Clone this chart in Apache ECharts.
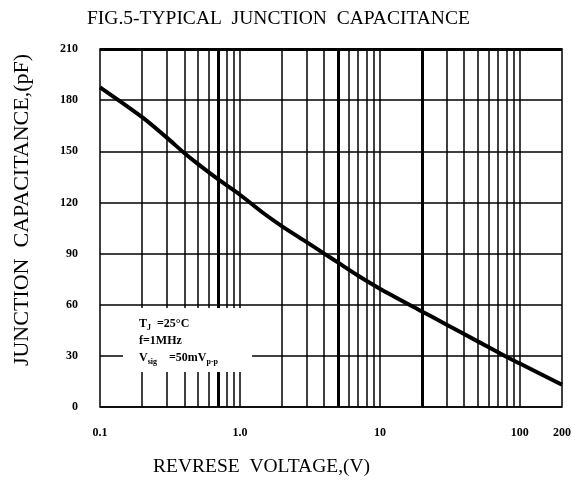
<!DOCTYPE html>
<html>
<head>
<meta charset="utf-8">
<script src="https://cdn.jsdelivr.net/npm/echarts@6/dist/echarts.min.js"></script>
<style>
  html, body { margin: 0; padding: 0; background: #fff; }
  #chart { width: 575px; height: 495px; }
</style>
</head>
<body>
<div id="chart"></div>
<script>
// curve
var voltage = [0.1, 0.2, 0.3, 0.4, 0.5, 0.7, 1, 1.5, 2, 3, 4, 5, 7, 10, 20, 30, 50, 80, 100, 200];
var capacitance = [187.5, 170, 158, 149, 142.6, 133.5, 124.5, 113.2, 106, 96.7, 90, 84.8, 77, 69.4, 56, 48.3, 38.5, 29.5, 25.5, 13];

// log grid lines (thick ones are drawn heavier in the original)
var gridVolts = [0.2, 0.3, 0.4, 0.5, 0.6, 0.7, 0.8, 0.9, 1, 2, 3, 4, 5, 6, 7, 8, 9, 10, 20, 30, 40, 50, 60, 70, 80, 90, 100];
var thickVolts = [0.7, 5, 20];

var xTickValues = [0.1, 1, 10, 100, 200];
var xTickText = {0.1: '0.1', 1: '1.0', 10: '10', 100: '100', 200: '200'};
var yTicks = [0, 30, 60, 90, 120, 150, 180, 210];

var serif = '"Liberation Serif", "DejaVu Serif", serif';

var myChart = echarts.init(document.getElementById('chart'));

var vLines = gridVolts.map(function (v) {
    return {
        xAxis: v,
        lineStyle: {width: thickVolts.indexOf(v) >= 0 ? 3 : 1.5}
    };
});
vLines.push({yAxis: yTicks[yTicks.length - 1], lineStyle: {width: 3}});

myChart.setOption({
    animation: false,
    title: [
        {
            text: 'FIG.5-TYPICAL  JUNCTION  CAPACITANCE',
            left: 82,
            top: 4,
            textStyle: {fontFamily: serif, fontSize: 19.5, fontWeight: 'normal', color: '#000'}
        },
        {
            text: 'REVRESE  VOLTAGE,(V)',
            left: 148,
            top: 452,
            textStyle: {fontFamily: serif, fontSize: 19.5, fontWeight: 'normal', color: '#000'}
        }
    ],
    graphic: [
        {
            type: 'text',
            x: 22,
            y: 210,
            rotation: Math.PI / 2,
            style: {
                text: 'JUNCTION  CAPACITANCE,(pF)',
                font: '22px ' + serif,
                fill: '#000',
                align: 'center',
                verticalAlign: 'middle'
            }
        },
        {
            type: 'rect',
            z: 100,
            shape: {x: 123, y: 308, width: 129, height: 64},
            style: {fill: '#fff'}
        },
        {
            type: 'text',
            z: 101,
            x: 139, y: 315,
            style: {
                rich: {
                    t: {font: 'bold 12px ' + serif, fill: '#000', lineHeight: 17},
                    s: {font: 'bold 8px ' + serif, fill: '#000', verticalAlign: 'bottom', lineHeight: 17}
                },
                text: '{t|T}{s|J}{t|  =25°C}\n{t|f=1MHz}\n{t|V}{s|sig}{t|    =50mV}{s|p-p}'
            }
        }
    ],
    grid: {
        left: 100,
        right: 13,
        top: 49,
        bottom: 88,
        show: true,
        borderColor: '#000',
        borderWidth: 1.5,
        backgroundColor: '#fff'
    },
    xAxis: {
        type: 'log',
        logBase: 10,
        min: 0.1,
        max: 200,
        axisLine: {show: false},
        axisTick: {show: false},
        splitLine: {show: false},
        axisLabel: {
            customValues: xTickValues,
            margin: 20,
            color: '#000',
            fontFamily: serif,
            fontWeight: 'bold',
            fontSize: 12,
            formatter: function (v) { return xTickText[v] || String(v); }
        }
    },
    yAxis: {
        type: 'value',
        min: 0,
        max: 210,
        interval: 30,
        axisLine: {show: false},
        axisTick: {show: false},
        splitLine: {show: true, lineStyle: {color: '#000', width: 1.5}},
        axisLabel: {
            margin: 22,
            color: '#000',
            fontFamily: serif,
            fontWeight: 'bold',
            fontSize: 12
        }
    },
    series: [
        {
            type: 'line',
            data: voltage.map(function (v, i) { return [v, capacitance[i]]; }),
            smooth: 0.3,
            symbol: 'none',
            lineStyle: {color: '#000', width: 4},
            z: 5,
            markLine: {
                silent: true,
                symbol: 'none',
                label: {show: false},
                lineStyle: {color: '#000', type: 'solid', width: 1.5},
                z: 1,
                data: vLines
            }
        }
    ]
});
</script>
</body>
</html>
